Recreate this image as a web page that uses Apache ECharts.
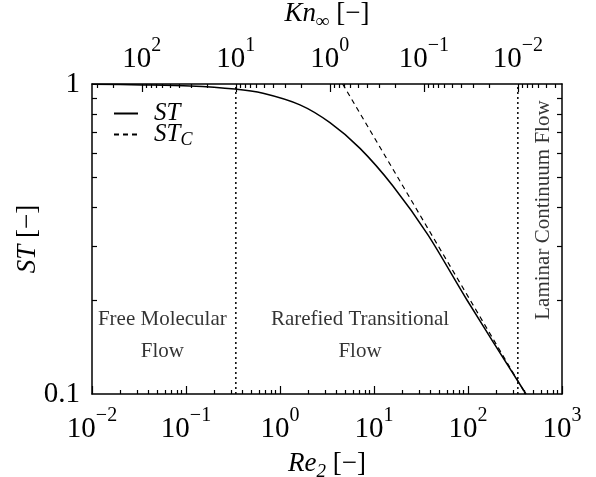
<!DOCTYPE html>
<html>
<head>
<meta charset="utf-8">
<script src="https://cdn.jsdelivr.net/npm/echarts@6/dist/echarts.min.js"></script>
<style>
html, body { margin: 0; padding: 0; background: #fff; }
#chart { width: 596px; height: 477px; }
</style>
</head>
<body>
<div id="chart"></div>
<script>
// ST curve (Re2, ST)
var stRe = [0.01, 0.034, 0.11, 0.33, 0.66, 1.63, 3.4, 7.1, 15.9, 37.5, 97.5, 414];
var stVal = [0.998, 0.993, 0.985, 0.963, 0.933, 0.856, 0.750, 0.620, 0.469, 0.326, 0.201, 0.1];
// continuum asymptote ST_C (straight in log-log)
var stcRe = [4.64, 410];
var stcVal = [1, 0.1];
// flow regime boundaries, in Kn
var knBounds = [10, 0.01];
// regime labels
var regionNames = ['Free Molecular\nFlow', 'Rarefied Transitional\nFlow', 'Laminar Continuum Flow'];
var regionRe = [0.056, 7.1, 628];
var regionSt = [0.155, 0.155, 0.392];
// ticks
var reMajor = [0.01, 0.1, 1, 10, 100, 1000];
var knMajor = [100, 10, 1, 0.1, 0.01];
var stLabels = [0.1, 1];
var stTicks = [0.2, 0.3, 0.4, 0.5, 0.6, 0.7, 0.8, 0.9];
var mantissas = [2, 3, 4, 5, 6, 7, 8, 9];
var reDecades = [0.01, 0.1, 1, 10, 100];
var knDecades = [0.001, 0.01, 0.1, 1, 10, 100];
// Kn axis range that lines up with Re2 = 0.01 .. 1000
var knMin = 0.00339, knMax = 339;

var FONT = 'Liberation Serif';
var reMinor = [];
reDecades.forEach(function (d) { mantissas.forEach(function (m) { reMinor.push(+(m * d).toPrecision(3)); }); });
var knMinor = [];
knDecades.forEach(function (d) { mantissas.forEach(function (m) {
	var v = +(m * d).toPrecision(3);
	if (v > knMin && v < knMax) knMinor.push(v);
}); });

function pair(xs, ys) {
	return xs.map(function (x, i) { return [x, ys[i]]; });
}
function powLabel(v) {
	var e = Math.round(Math.log10(v));
	return '{b|10}{s|' + (e < 0 ? '\u2212' + (-e) : e) + '}';
}
var powRich = {
	b: { fontFamily: FONT, fontSize: 29, lineHeight: 46, color: '#000' },
	s: { fontFamily: FONT, fontSize: 20, lineHeight: 20, verticalAlign: 'top', color: '#000' }
};
var nameRich = {
	i: { fontFamily: FONT, fontSize: 27, fontStyle: 'italic', lineHeight: 34, color: '#000' },
	sub: { fontFamily: FONT, fontSize: 19, fontStyle: 'italic', lineHeight: 14, verticalAlign: 'bottom', color: '#000' },
	n: { fontFamily: FONT, fontSize: 27, lineHeight: 34, color: '#000' }
};
var blackLine = { show: true, lineStyle: { color: '#000', width: 1.5 } };

function majorX(pos, extra) {
	var a = {
		type: 'log', position: pos,
		axisLine: blackLine,
		splitLine: { show: false }
	};
	for (var k in extra) a[k] = extra[k];
	return a;
}
function minorX(pos, min, max, ticks, inverse) {
	return {
		type: 'log', position: pos, min: min, max: max, inverse: !!inverse,
		axisLine: { show: false },
		axisTick: { show: true, inside: true, length: 4, customValues: ticks, lineStyle: { color: '#000', width: 1.2 } },
		axisLabel: { show: false },
		splitLine: { show: false }
	};
}

var chart = echarts.init(document.getElementById('chart'), null, { renderer: 'canvas' });
chart.setOption({
	backgroundColor: '#fff',
	animation: false,
	grid: { left: 92, right: 34, top: 84, bottom: 83, outerBoundsMode: 'none' },
	legend: {
		data: ['ST', 'STC'],
		orient: 'vertical',
		left: 113, top: 101, padding: 0,
		itemWidth: 24, itemHeight: 14, itemGap: -4,
		itemStyle: { opacity: 0 },
		textStyle: { padding: [0, 0, 0, 11], rich: {
			i: { fontFamily: FONT, fontSize: 25, fontStyle: 'italic', lineHeight: 30, color: '#000' },
			sub: { fontFamily: FONT, fontSize: 18, fontStyle: 'italic', lineHeight: 12, verticalAlign: 'bottom', color: '#000' }
		} },
		formatter: function (n) { return n === 'STC' ? '{i|ST}{sub|C}' : '{i|ST}'; }
	},
	xAxis: [
		majorX('bottom', {
			min: 0.01, max: 1000,
			axisTick: { show: true, inside: true, length: 8, customValues: reMajor, lineStyle: { color: '#000', width: 1.2 } },
			axisLabel: { customValues: reMajor, formatter: powLabel, rich: powRich, margin: 12 },
			name: '{i|Re}{sub|2}{n| [\u2212]}', nameLocation: 'middle', nameGap: 53,
			nameTextStyle: { rich: nameRich }
		}),
		minorX('bottom', 0.01, 1000, reMinor, false),
		majorX('top', {
			min: knMin, max: knMax, inverse: true,
			axisTick: { show: true, inside: true, length: 8, customValues: knMajor, lineStyle: { color: '#000', width: 1.2 } },
			axisLabel: { customValues: knMajor, formatter: powLabel, rich: powRich, margin: 2 },
			name: '{i|Kn}{sub|\u221e}{n| [\u2212]}', nameLocation: 'middle', nameGap: 49,
			nameTextStyle: { rich: nameRich }
		}),
		minorX('top', knMin, knMax, knMinor, true)
	],
	yAxis: [
		{
			type: 'log', position: 'left', min: 0.1, max: 1,
			axisLine: blackLine,
			axisTick: { show: true, inside: true, length: 5, customValues: stTicks, lineStyle: { color: '#000', width: 1.2 } },
			axisLabel: { customValues: stLabels, margin: 12, fontFamily: FONT, fontSize: 29, color: '#000',
				formatter: function (v) { return String(v); } },
			splitLine: { show: false },
			name: '{i|ST}{n| [\u2212]}', nameLocation: 'middle', nameGap: 47, nameRotate: 90,
			nameMoveOverlap: false,
			nameTextStyle: { rich: nameRich }
		},
		{
			type: 'log', position: 'right', min: 0.1, max: 1,
			axisLine: blackLine,
			axisTick: { show: true, inside: true, length: 5, customValues: stTicks, lineStyle: { color: '#000', width: 1.2 } },
			axisLabel: { show: false },
			splitLine: { show: false }
		}
	],
	series: [
		{
			name: 'bound1', type: 'line', xAxisIndex: 2, yAxisIndex: 0, symbol: 'none', silent: true,
			data: [[knBounds[0], 0.1], [knBounds[0], 1]],
			lineStyle: { color: '#000', width: 1.5, type: [2, 3] }
		},
		{
			name: 'bound2', type: 'line', xAxisIndex: 2, yAxisIndex: 0, symbol: 'none', silent: true,
			data: [[knBounds[1], 0.1], [knBounds[1], 1]],
			lineStyle: { color: '#000', width: 1.5, type: [2, 3] }
		},
		{
			name: 'STC', type: 'line', xAxisIndex: 0, yAxisIndex: 0, symbol: 'none',
			data: pair(stcRe, stcVal),
			itemStyle: { color: '#000' },
			lineStyle: { color: '#000', width: 1.2, type: [5, 4] }
		},
		{
			name: 'ST', type: 'line', xAxisIndex: 0, yAxisIndex: 0, symbol: 'none', smooth: 0.3,
			data: pair(stRe, stVal),
			itemStyle: { color: '#000' },
			lineStyle: { color: '#000', width: 1.5 }
		},
		{
			name: 'regions', type: 'scatter', xAxisIndex: 0, yAxisIndex: 0, symbolSize: 0, silent: true,
			data: regionNames.map(function (n, i) {
				return { name: n, value: [regionRe[i], regionSt[i]],
					label: { rotate: i === 2 ? 90 : 0 } };
			}),
			label: {
				show: true, position: 'inside', formatter: '{b}',
				fontFamily: FONT, fontSize: 21, lineHeight: 32, color: '#000', align: 'center'
			}
		}
	]
});
</script>
</body>
</html>
